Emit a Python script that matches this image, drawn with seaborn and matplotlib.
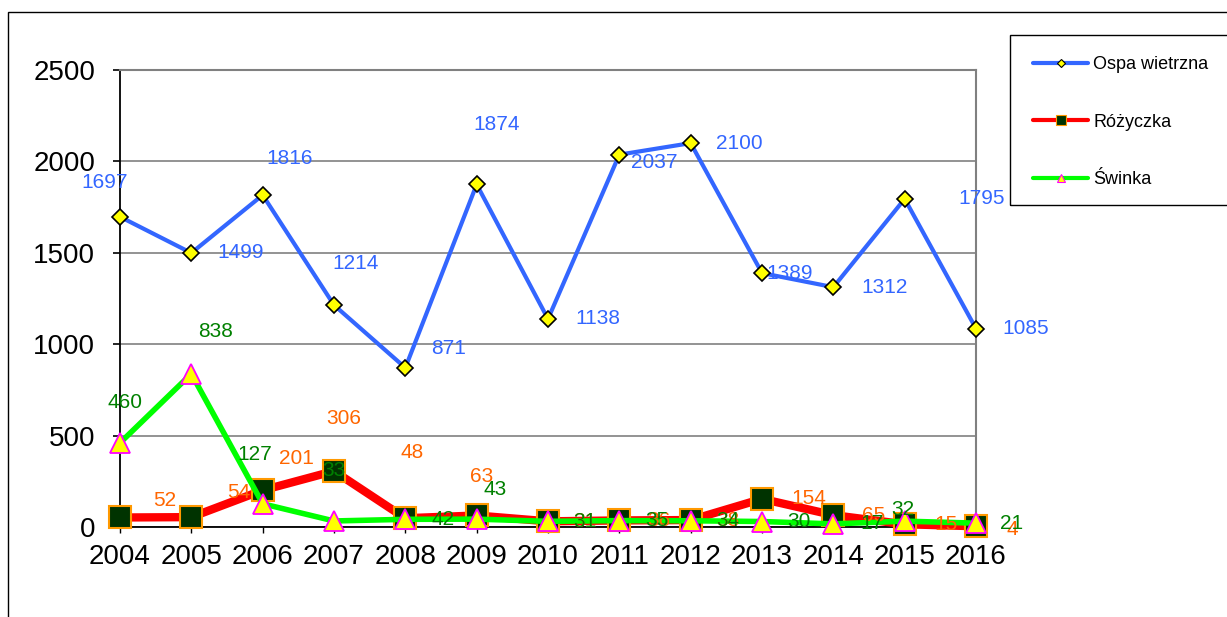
import matplotlib
matplotlib.use("Agg")
import matplotlib.pyplot as plt
import seaborn as sns
import pandas as pd
from matplotlib.lines import Line2D
from matplotlib.patches import Rectangle

# data
years = [2004, 2005, 2006, 2007, 2008, 2009, 2010, 2011, 2012, 2013, 2014, 2015, 2016]
ospa = [1697, 1499, 1816, 1214, 871, 1874, 1138, 2037, 2100, 1389, 1312, 1795, 1085]
rozyczka = [52, 54, 201, 306, 48, 63, 31, 36, 38, 154, 65, 15, 4]
swinka = [460, 838, 127, 33, 42, 43, 31, 35, 34, 30, 17, 32, 21]
series_names = ["Ospa wietrzna", "Różyczka", "Świnka"]
yticks = [0, 500, 1000, 1500, 2000, 2500]

sns.set_theme(style="white")
plt.rcParams["font.family"] = ["Liberation Sans", "DejaVu Sans"]

df = pd.DataFrame({"rok": years, "ospa": ospa, "rozyczka": rozyczka, "swinka": swinka})

fig = plt.figure(figsize=(12.27, 6.17), dpi=100)
ax = fig.add_axes([120 / 1227, 1 - 527 / 617, 856 / 1227, 457 / 617])

# outer chart border and legend box (legend box runs off the right edge like in the original)
fig.patches.append(Rectangle((8 / 1227, -0.1), 1.2, 1.1 - 12 / 617, transform=fig.transFigure,
                             fill=False, edgecolor="black", linewidth=1.0))
fig.patches.append(Rectangle((1010 / 1227, 1 - 205 / 617), 0.3, 170 / 617, transform=fig.transFigure,
                             fill=False, edgecolor="black", linewidth=1.0))

BLUE, RED, GREEN = "#3366ff", "#ff0000", "#00ff00"

sns.lineplot(data=df, x="rok", y="ospa", ax=ax, color=BLUE, linewidth=3,
             marker="D", markersize=8, markerfacecolor="#ffff00", markeredgecolor="black",
             markeredgewidth=1.2, clip_on=False, zorder=3)
sns.lineplot(data=df, x="rok", y="rozyczka", ax=ax, color=RED, linewidth=6,
             marker="s", markersize=16.5, markerfacecolor="#003300", markeredgecolor="#ff9900",
             markeredgewidth=1.5, clip_on=False, zorder=4)
sns.lineplot(data=df, x="rok", y="swinka", ax=ax, color=GREEN, linewidth=4,
             marker="^", markersize=14, markerfacecolor="#ffff00", markeredgecolor="#ff00ff",
             markeredgewidth=1.3, clip_on=False, zorder=5)

# data labels, offsets in pixels (right, up)
off_ospa = [(-15, 34), (49, 0), (27, 37), (22, 42), (43, 19), (20, 60), (50, 0),
            (35, -8), (49, 0), (28, 0), (51, 0), (77, 0), (50, 0)]
off_roz = [(45, 17), (47, 25), (34, 32), (10, 53), (7, 66), (5, 39), (37, 0),
           (40, 0), (37, 0), (47, 0), (40, 0), (41, 0), (36, -3)]
off_sw = [(5, 40), (24, 42), (-8, 49), (0, 50), (38, 0), (18, 30), (37, 0),
          (38, 0), (37, 0), (37, 0), (39, 0), (-2, 12), (36, 0)]

for vals, offs, col, z in [(ospa, off_ospa, "#3366ff", 6),
                           (rozyczka, off_roz, "#ff6600", 7),
                           (swinka, off_sw, "#008000", 8)]:
    for x, v, (dx, dy) in zip(years, vals, offs):
        ax.annotate(str(v), (x, v), xytext=(dx, dy), textcoords="offset pixels",
                    ha="center", va="center", fontsize=15, color=col,
                    zorder=z, annotation_clip=False)

ax.set_xlim(2004, 2016)
ax.set_ylim(0, 2500)
ax.set_xticks(years)
ax.set_xticklabels([str(y) for y in years])
ax.set_yticks(yticks)
ax.set_xlabel("")
ax.set_ylabel("")
ax.tick_params(axis="y", which="major", length=5, width=1.2, color="black",
               direction="out", labelsize=20, pad=13, left=True, labelcolor="black")
ax.tick_params(axis="x", which="major", length=4.5, width=1.0, color="black",
               direction="out", labelsize=20, pad=8, bottom=True, labelcolor="black")

ax.yaxis.grid(True, color="#808080", linewidth=1.2)
ax.set_axisbelow(True)
for side in ["left", "bottom"]:
    ax.spines[side].set_color("black")
    ax.spines[side].set_linewidth(1.3)
for side in ["top", "right"]:
    ax.spines[side].set_color("#808080")
    ax.spines[side].set_linewidth(1.5)

leg = ax.get_legend()
if leg is not None:
    leg.remove()

handles = [
    Line2D([], [], color=BLUE, linewidth=3, marker="D", markersize=4.5,
           markerfacecolor="#ffff00", markeredgecolor="black", markeredgewidth=0.8,
           solid_capstyle="round"),
    Line2D([], [], color=RED, linewidth=3, marker="s", markersize=6.5,
           markerfacecolor="#003300", markeredgecolor="#ff9900", markeredgewidth=0.8,
           solid_capstyle="round"),
    Line2D([], [], color=GREEN, linewidth=3, marker="^", markersize=6,
           markerfacecolor="#ffff00", markeredgecolor="#ff00ff", markeredgewidth=0.8,
           solid_capstyle="round"),
]
fig.legend(handles, series_names, loc="upper left",
           bbox_to_anchor=(1033 / 1227, 1 - 56 / 617), borderaxespad=0,
           fontsize=13, frameon=False, handlelength=3.05, handletextpad=0.3,
           labelspacing=2.25, borderpad=0.0, labelcolor="black")

fig.savefig("out.png", dpi=100, facecolor="white")
